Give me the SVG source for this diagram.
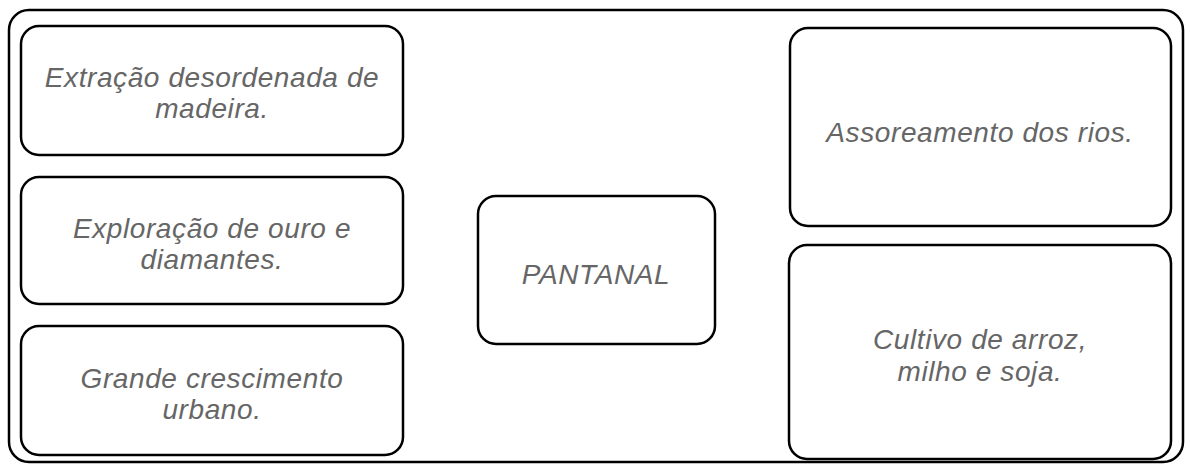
<svg xmlns="http://www.w3.org/2000/svg" width="1190" height="468" viewBox="0 0 1190 468">
<style>
.box{fill:#fff;stroke:#000;stroke-width:2.5}
.t{font-family:"Liberation Sans",Arial,sans-serif;font-style:italic;font-size:28px;fill:#666;text-anchor:middle;letter-spacing:0.6px}
</style>
<rect x="0" y="0" width="1190" height="468" fill="#fff"/>
<rect x="9" y="10" width="1174" height="452" rx="20" class="box"/>
<g id="connectors"></g>
<g id="n1"><rect x="21" y="26" width="382" height="129" rx="18" class="box"/>
<text class="t" x="212" y="87">Extração desordenada de</text><text class="t" x="212" y="118">madeira.</text></g>
<g id="n2"><rect x="21" y="177" width="382" height="127" rx="18" class="box"/>
<text class="t" x="212" y="238">Exploração de ouro e</text><text class="t" x="212" y="269">diamantes.</text></g>
<g id="n3"><rect x="21" y="326" width="382" height="129" rx="18" class="box"/>
<text class="t" x="212" y="388">Grande crescimento</text><text class="t" x="212" y="419">urbano.</text></g>
<g id="n4"><rect x="478" y="196" width="237" height="148" rx="18" class="box"/>
<text class="t" x="596" y="284">PANTANAL</text></g>
<g id="n5"><rect x="790" y="28" width="381" height="198" rx="18" class="box"/>
<text class="t" x="980" y="142">Assoreamento dos rios.</text></g>
<g id="n6"><rect x="789" y="245" width="382" height="214" rx="18" class="box"/>
<text class="t" x="980" y="349">Cultivo de arroz,</text><text class="t" x="980" y="381">milho e soja.</text></g>
</svg>
